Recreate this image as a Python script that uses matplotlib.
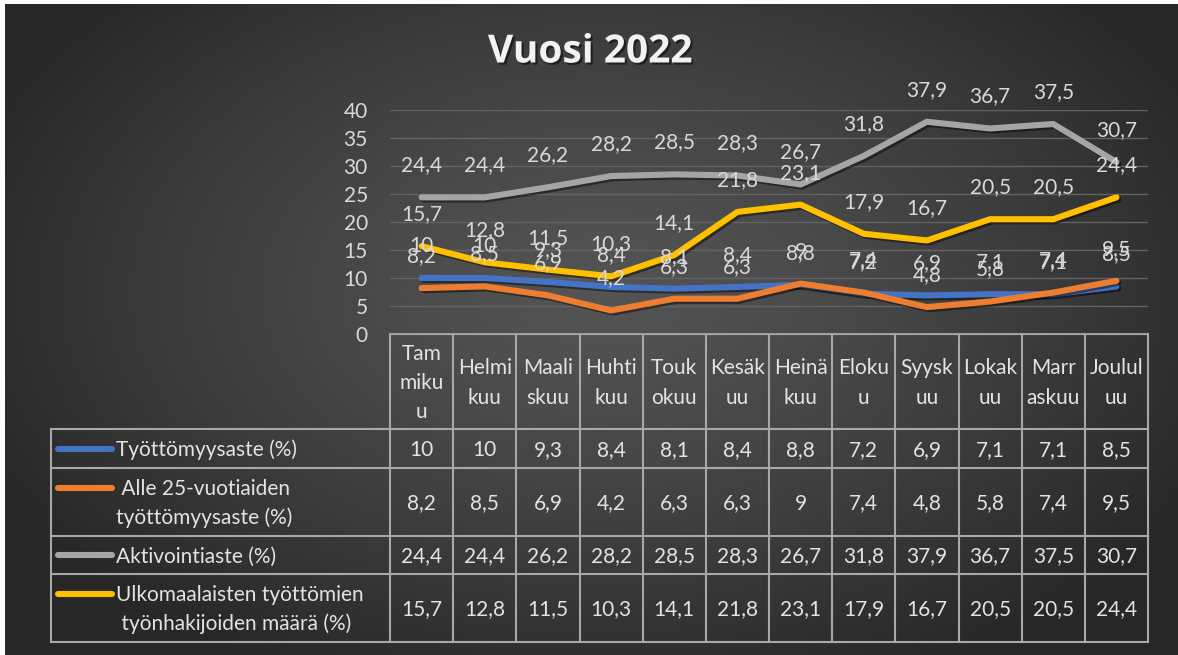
import matplotlib.pyplot as plt
import matplotlib.patheffects as pe
import numpy as np

# data
kuukaudet = ["Tam\nmiku\nu", "Helmi\nkuu", "Maali\nskuu", "Huhti\nkuu", "Touk\nokuu", "Kesäk\nuu",
             "Heinä\nkuu", "Eloku\nu", "Syysk\nuu", "Lokak\nuu", "Marr\naskuu", "Joulul\nuu"]
tyottomyysaste = [10, 10, 9.3, 8.4, 8.1, 8.4, 8.8, 7.2, 6.9, 7.1, 7.1, 8.5]
alle25 = [8.2, 8.5, 6.9, 4.2, 6.3, 6.3, 9, 7.4, 4.8, 5.8, 7.4, 9.5]
aktivointiaste = [24.4, 24.4, 26.2, 28.2, 28.5, 28.3, 26.7, 31.8, 37.9, 36.7, 37.5, 30.7]
ulkomaalaiset = [15.7, 12.8, 11.5, 10.3, 14.1, 21.8, 23.1, 17.9, 16.7, 20.5, 20.5, 24.4]

sarjat = [tyottomyysaste, alle25, aktivointiaste, ulkomaalaiset]
nimet = [["Työttömyysaste (%)"],
         [" Alle 25-vuotiaiden", "työttömyysaste (%)"],
         ["Aktivointiaste (%)"],
         ["Ulkomaalaisten työttömien", " työnhakijoiden määrä (%)"]]
varit = ["#4472C4", "#ED7D31", "#A5A5A5", "#FFC000"]

plt.rcParams['font.family'] = ['Lato', 'DejaVu Sans']
W, H = 1178, 655
fs = 15
tekstivari = "#e3e3e3"
viivavari = "#a8a8a8"


def muoto(v):
    return f"{v:g}".replace('.', ',')


fig = plt.figure(figsize=(W / 100, H / 100), dpi=100, facecolor='white')

# tausta (pikseleinä)
ax_bg = fig.add_axes([0, 0, 1, 1])
ax_bg.set_xlim(0, W)
ax_bg.set_ylim(H, 0)
ax_bg.axis('off')
yy, xx = np.mgrid[4:H, 5:W]
r = np.sqrt(((xx - 600) / 680.0) ** 2 + ((yy - 290) / 430.0) ** 2)
r = np.clip(r, 0, 1)
val = (0x54 - (0x54 - 0x27) * r ** 1.3) / 255.0
ax_bg.imshow(np.dstack([val, val, val]), extent=(5, W, H, 4), aspect='auto', zorder=0)

# otsikko
ax_bg.text(590, 52, "Vuosi 2022", ha='center', va='center', fontsize=28, fontweight='bold',
           family=['Open Sans', 'DejaVu Sans'], color='#f2f2f2',
           path_effects=[pe.withSimplePatchShadow(offset=(1.5, -1.5), shadow_rgbFace='black', alpha=0.5)])

# viivakaavio
x_vasen, x_oikea, y_ala, y_yla = 390, 1148, 334, 110
ax = fig.add_axes([x_vasen / W, (H - y_ala) / H, (x_oikea - x_vasen) / W, (y_ala - y_yla) / H])
ax.patch.set_alpha(0)
x = np.arange(len(kuukaudet))
for s, c in zip(sarjat, varit):
    ax.plot(x, s, color=c, lw=4.4, solid_capstyle='round', solid_joinstyle='round', zorder=3,
            path_effects=[pe.SimpleLineShadow(offset=(1.5, -1.5), shadow_color='black', alpha=0.45),
                          pe.Normal()])
for s in sarjat:
    for i, v in enumerate(s):
        ax.annotate(muoto(v), (i, v), xytext=(0, 26), textcoords='offset pixels', ha='center',
                    va='baseline', fontsize=fs, color='#d9d9d9', zorder=5, annotation_clip=False)
ax.set_xlim(-0.5, len(kuukaudet) - 0.5)
ax.set_ylim(0, 40)
ax.set_yticks(np.arange(0, 41, 5))
ax.set_xticks([])
ax.tick_params(axis='y', length=0, pad=16, labelsize=fs, labelcolor='#d9d9d9')
ax.grid(axis='y', color='#636363', lw=1)
ax.set_axisbelow(True)
for sp in ax.spines.values():
    sp.set_visible(False)

# taulukko
sarakew = (x_oikea - x_vasen) / len(kuukaudet)
x_reunat = x_vasen + sarakew * np.arange(len(kuukaudet) + 1)
x_kesket = x_reunat[:-1] + sarakew / 2
rivit = [429, 468, 536, 574, 642]
t_vasen = 51
rivivali = 29
lk = dict(color=viivavari, lw=1.5, zorder=2)

# otsikkorivi
ax_bg.plot([x_vasen, x_oikea], [y_ala, y_ala], **lk)
for xe in x_reunat:
    ax_bg.plot([xe, xe], [y_ala, rivit[-1]], **lk)
ax_bg.plot([t_vasen, t_vasen], [rivit[0], rivit[-1]], **lk)
for ry in rivit:
    ax_bg.plot([t_vasen, x_oikea], [ry, ry], **lk)

hk = (y_ala + rivit[0]) / 2
for xc, kk in zip(x_kesket, kuukaudet):
    osat = kk.split("\n")
    for k, o in enumerate(osat):
        yc = hk + (k - (len(osat) - 1) / 2) * rivivali
        ax_bg.text(xc, yc + 7.5, o, ha='center', va='baseline', fontsize=fs, color=tekstivari)

for j, (s, n, c) in enumerate(zip(sarjat, nimet, varit)):
    rk = (rivit[j] + rivit[j + 1]) / 2
    for i, v in enumerate(s):
        ax_bg.text(x_kesket[i], rk + 7.5, muoto(v), ha='center', va='baseline', fontsize=fs, color=tekstivari)
    for k, o in enumerate(n):
        yc = rk + (k - (len(n) - 1) / 2) * rivivali
        ax_bg.text(116, yc + 7.5, o, ha='left', va='baseline', fontsize=fs, color=tekstivari)
    y0 = rk - (len(n) - 1) / 2 * rivivali
    ax_bg.plot([58, 112], [y0, y0], color=c, lw=4.4, solid_capstyle='round', zorder=3)

fig.savefig("out.png", dpi=100, facecolor=fig.get_facecolor())
